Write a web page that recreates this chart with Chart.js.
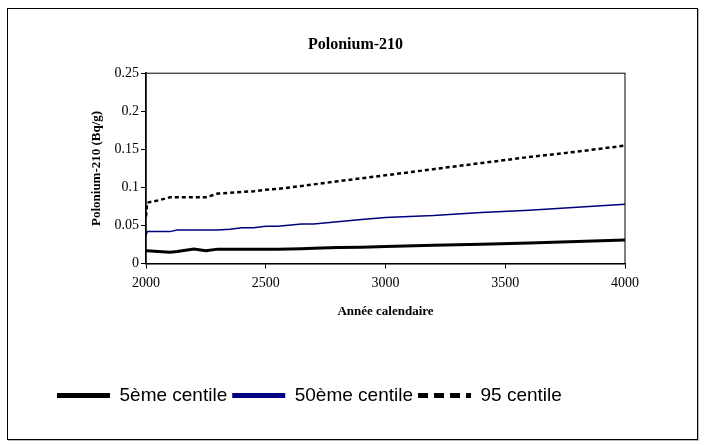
<!DOCTYPE html>
<html>
<head>
<meta charset="utf-8">
<script src="https://cdn.jsdelivr.net/npm/chart.js@4"></script>
<style>
  body { margin: 0; background: #fff; }
  #frame { position: absolute; left: 7px; top: 8px; width: 689px; height: 430px; border: 1px solid #000; box-shadow: 1px 1px 0 #bbb; }
  #wrap { position: absolute; left: 0; top: 0; width: 704px; height: 445px; }
</style>
</head>
<body>
<div id="frame"></div>
<div id="wrap"><canvas id="poChart" width="704" height="445"></canvas></div>
<script>
// années et centiles
const years = [2000, 2005, 2050, 2100, 2130, 2200, 2250, 2300, 2350, 2400, 2450, 2500, 2550, 2650, 2700, 2800, 2900, 3000, 3200, 3400, 3600, 3800, 4000];
const p5  = [0.017, 0.017, 0.016, 0.015, 0.016, 0.019, 0.017, 0.019, 0.019, 0.019, 0.019, 0.019, 0.019, 0.0195, 0.020, 0.021, 0.0215, 0.0225, 0.024, 0.0255, 0.027, 0.029, 0.031];
const p50 = [0.037, 0.042, 0.042, 0.042, 0.044, 0.044, 0.044, 0.044, 0.045, 0.047, 0.047, 0.049, 0.049, 0.052, 0.052, 0.055, 0.058, 0.0605, 0.063, 0.067, 0.070, 0.074, 0.078];
const p95 = [0.062, 0.080, 0.083, 0.087, 0.087, 0.087, 0.087, 0.092, 0.093, 0.094, 0.095, 0.097, 0.098, 0.102, 0.104, 0.108, 0.112, 0.116, 0.124, 0.132, 0.140, 0.147, 0.155];
const seriesNames = ['5ème centile', '50ème centile', '95 centile'];
const xTickLabels = ['2000', '2500', '3000', '3500', '4000'];
const yTickLabels = ['0', '0.05', '0.1', '0.15', '0.2', '0.25'];

function toPoints(values) {
    return values.map((v, i) => ({ x: years[i], y: v }));
}

// cadre noir autour de la zone de tracé
const plotBorder = {
    id: 'plotBorder',
    afterDraw(chart) {
        const a = chart.chartArea;
        const ctx = chart.ctx;
        ctx.save();
        ctx.strokeStyle = '#000';
        ctx.lineWidth = 1;
        ctx.strokeRect(a.left, a.top, a.right - a.left, a.bottom - a.top);
        ctx.restore();
    }
};

Chart.defaults.font.family = 'Liberation Serif';
Chart.defaults.color = '#000';

const ctx = document.getElementById('poChart').getContext('2d');
new Chart(ctx, {
    type: 'line',
    data: {
        datasets: [
            { label: seriesNames[0], data: toPoints(p5), borderColor: '#000', borderWidth: 3 },
            { label: seriesNames[1], data: toPoints(p50), borderColor: '#000080', borderWidth: 1.5 },
            { label: seriesNames[2], data: toPoints(p95), borderColor: '#000', borderWidth: 2.5, borderDash: [4, 3] }
        ]
    },
    options: {
        responsive: false,
        animation: false,
        layout: { padding: { left: 52, right: 45, top: 0, bottom: 30 } },
        elements: { point: { radius: 0 }, line: { tension: 0 } },
        scales: {
            x: {
                type: 'linear',
                min: 2000,
                max: 4000,
                ticks: { stepSize: 500, padding: 6, font: { size: 14 }, callback: (v, i) => xTickLabels[i] },
                grid: { drawOnChartArea: false, tickLength: 5, color: '#000' },
                border: { color: '#000', width: 1.5 },
                title: { display: true, text: 'Année calendaire', font: { size: 13, weight: 'bold' }, padding: { top: 6, bottom: 62 } }
            },
            y: {
                min: 0,
                max: 0.25,
                afterFit: s => { s.width = 94; },
                ticks: { stepSize: 0.05, padding: 2, font: { size: 14 }, callback: (v, i) => yTickLabels[i] },
                grid: { drawOnChartArea: false, tickLength: 5, color: '#000' },
                border: { color: '#000', width: 1.5 },
                title: { display: true, text: 'Polonium-210 (Bq/g)', font: { size: 13, weight: 'bold' }, padding: { top: 37, bottom: 0 } }
            },
            yRight: {
                position: 'right',
                afterFit: s => { s.width = 34; },
                ticks: { display: false },
                grid: { display: false },
                border: { display: false }
            }
        },
        plugins: {
            title: {
                display: true,
                text: 'Polonium-210',
                font: { size: 16, weight: 'bold' },
                padding: { top: 35, bottom: 19 }
            },
            legend: {
                position: 'bottom',
                align: 'start',
                labels: {
                    font: { family: 'Liberation Sans', size: 19 },
                    usePointStyle: true,
                    pointStyle: 'line',
                    pointStyleWidth: 53,
                    padding: 5,
                    generateLabels: chart => Chart.defaults.plugins.legend.labels.generateLabels(chart).map((l, i) => {
                        l.lineWidth = 5;
                        l.pointStyle = 'line';
                        l.lineDash = i === 2 ? [10, 6] : [];
                        return l;
                    })
                }
            },
            tooltip: { enabled: false }
        }
    },
    plugins: [plotBorder]
});
</script>
</body>
</html>
